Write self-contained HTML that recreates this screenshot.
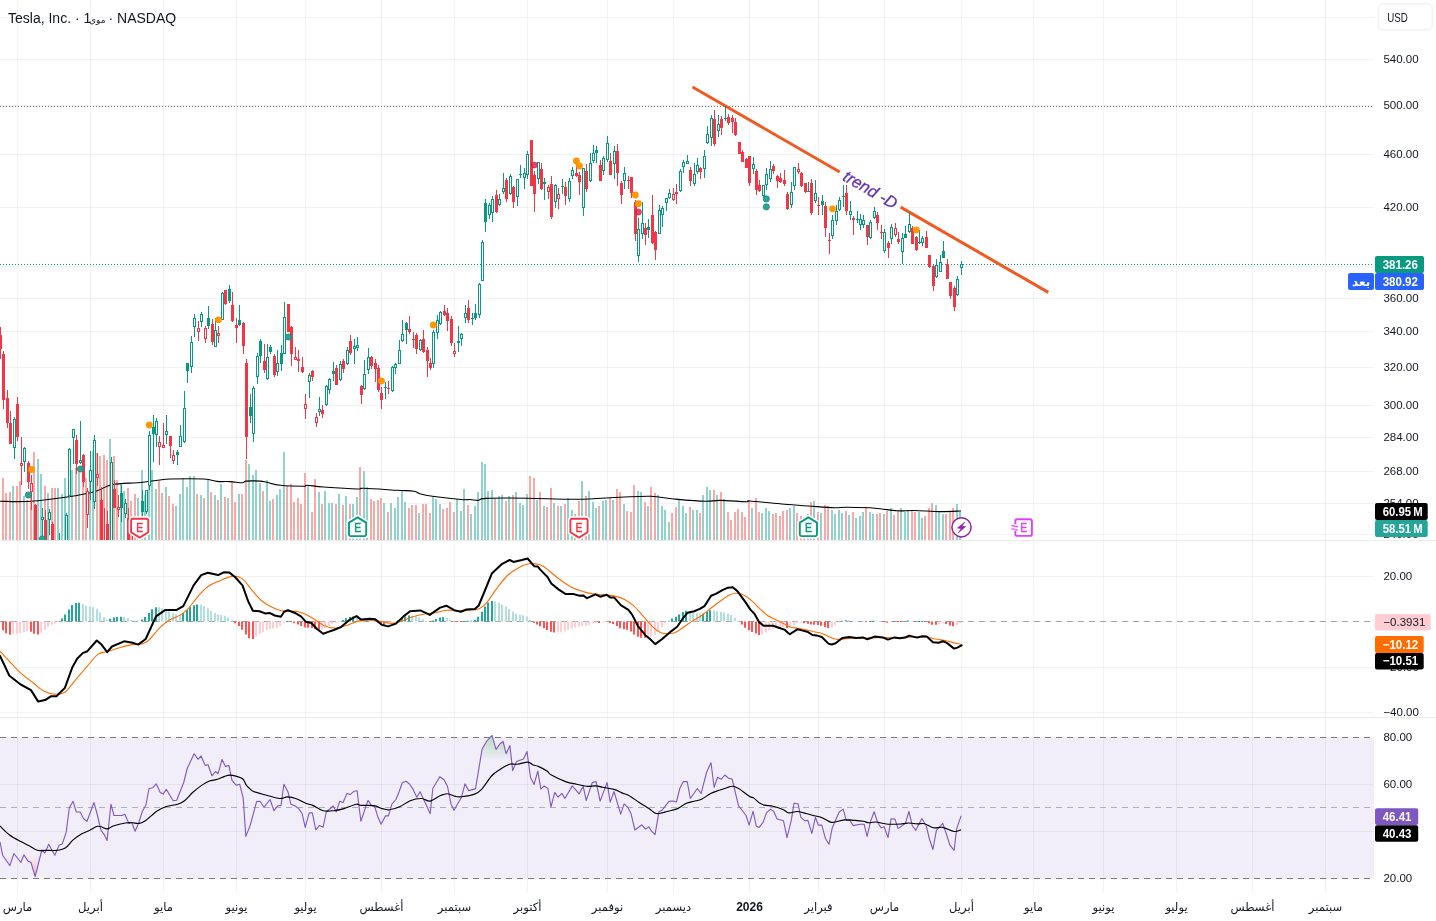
<!DOCTYPE html>
<html lang="ar"><head><meta charset="utf-8"><title>TSLA</title>
<style>html,body{margin:0;padding:0;background:#fff;overflow:hidden}svg{display:block}</style></head>
<body>
<svg width="1436" height="921" viewBox="0 0 1436 921" font-family="'Liberation Sans','DejaVu Sans',sans-serif">
<defs>
<clipPath id="cpMain"><rect x="0" y="0" width="1374" height="540"/></clipPath>
<clipPath id="cpMacd"><rect x="0" y="541" width="1374" height="176"/></clipPath>
<clipPath id="cpRsi"><rect x="0" y="718" width="1374" height="175"/></clipPath>
<clipPath id="cpOB"><rect x="0" y="725" width="1374" height="36"/></clipPath>
<clipPath id="cpOS"><rect x="0" y="855" width="1374" height="30"/></clipPath>
<linearGradient id="gOB" gradientUnits="userSpaceOnUse" x1="0" y1="737.5" x2="0" y2="761"><stop offset="0" stop-color="#4caf50" stop-opacity="0.32"/><stop offset="1" stop-color="#4caf50" stop-opacity="0"/></linearGradient>
<linearGradient id="gOS" gradientUnits="userSpaceOnUse" x1="0" y1="855" x2="0" y2="878.5"><stop offset="0" stop-color="#ff5252" stop-opacity="0"/><stop offset="1" stop-color="#ff5252" stop-opacity="0.32"/></linearGradient>
</defs>
<rect width="1436" height="921" fill="#fff"/>
<rect x="0" y="737.5" width="1374" height="141" fill="#7e57c2" fill-opacity="0.1"/>
<path d="M0 17.5H1374M0 59.5H1374M0 105.5H1374M0 154.5H1374M0 207.5H1374M0 266.5H1374M0 298.5H1374M0 331.5H1374M0 367.5H1374M0 405.5H1374M0 437.5H1374M0 471.5H1374M0 503.5H1374M0 534.5H1374M0 576.5H1374M0 667.5H1374M0 712.5H1374M0 784.5H1374M0 831.5H1374" stroke="#2a2e39" stroke-opacity="0.06" stroke-width="1" fill="none" shape-rendering="crispEdges"/>
<path d="M17.5 0V893M90.5 0V893M163.5 0V893M236.5 0V893M305.5 0V893M381.5 0V893M454.5 0V893M527.5 0V893M607.5 0V893M673.5 0V893M749.5 0V893M818.5 0V893M884.5 0V893M961.5 0V893M1033.5 0V893M1103.5 0V893M1176.5 0V893M1252.5 0V893M1325.5 0V893" stroke="#2a2e39" stroke-opacity="0.06" stroke-width="1" fill="none" shape-rendering="crispEdges"/>
<path d="M0 540.5H1436 M0 717.5H1436" stroke="#ebebeb" stroke-width="1" shape-rendering="crispEdges"/>
<g clip-path="url(#cpMain)" shape-rendering="crispEdges">
<path d="M12 486v54h2v-54zM23 496v44h2v-44zM37 459v81h2v-81zM40 474v66h2v-66zM47 493v47h2v-47zM57 488v52h2v-52zM61 494v46h2v-46zM64 478v62h2v-62zM68 462v78h2v-78zM71 470v70h2v-70zM78 468v72h2v-72zM89 470v70h2v-70zM92 451v89h2v-89zM109 439v101h2v-101zM120 484v56h2v-56zM123 491v49h2v-49zM137 498v42h2v-42zM141 470v70h2v-70zM144 495v45h2v-45zM148 462v78h2v-78zM151 470v70h2v-70zM155 489v51h2v-51zM165 487v53h2v-53zM175 506v34h2v-34zM179 494v46h2v-46zM182 478v62h2v-62zM186 487v53h2v-53zM189 476v64h2v-64zM193 476v64h2v-64zM200 495v45h2v-45zM207 480v60h2v-60zM214 495v45h2v-45zM220 484v56h2v-56zM227 498v42h2v-42zM238 494v46h2v-46zM248 464v76h2v-76zM252 475v65h2v-65zM255 470v70h2v-70zM259 483v57h2v-57zM266 480v60h2v-60zM269 501v39h2v-39zM276 495v45h2v-45zM279 489v51h2v-51zM283 452v88h2v-88zM307 485v55h2v-55zM318 492v48h2v-48zM324 491v49h2v-49zM328 503v37h2v-37zM331 503v37h2v-37zM338 494v46h2v-46zM345 496v44h2v-44zM352 504v36h2v-36zM356 497v43h2v-43zM363 471v69h2v-69zM366 487v53h2v-53zM383 503v37h2v-37zM390 503v37h2v-37zM394 508v32h2v-32zM397 497v43h2v-43zM401 491v49h2v-49zM404 502v38h2v-38zM418 513v27h2v-27zM432 497v43h2v-43zM435 499v41h2v-41zM439 504v36h2v-36zM456 499v41h2v-41zM460 511v29h2v-29zM463 489v51h2v-51zM470 514v26h2v-26zM474 506v34h2v-34zM477 492v48h2v-48zM481 462v78h2v-78zM484 464v76h2v-76zM487 491v49h2v-49zM491 490v50h2v-50zM498 496v44h2v-44zM501 495v45h2v-45zM508 496v44h2v-44zM515 492v48h2v-48zM519 503v37h2v-37zM522 505v35h2v-35zM526 494v46h2v-46zM536 500v40h2v-40zM543 506v34h2v-34zM553 503v37h2v-37zM560 506v34h2v-34zM567 498v42h2v-42zM571 510v30h2v-30zM581 481v59h2v-59zM588 491v49h2v-49zM592 502v38h2v-38zM595 508v32h2v-32zM602 501v39h2v-39zM605 500v40h2v-40zM612 500v40h2v-40zM623 504v36h2v-36zM637 491v49h2v-49zM640 492v48h2v-48zM647 506v34h2v-34zM657 495v45h2v-45zM661 506v34h2v-34zM664 510v30h2v-30zM668 522v18h2v-18zM678 500v40h2v-40zM682 506v34h2v-34zM685 513v27h2v-27zM692 510v30h2v-30zM696 510v30h2v-30zM702 495v45h2v-45zM706 487v53h2v-53zM709 490v50h2v-50zM716 495v45h2v-45zM723 499v41h2v-41zM751 508v32h2v-32zM761 513v27h2v-27zM765 508v32h2v-32zM768 511v29h2v-29zM789 508v32h2v-32zM793 506v34h2v-34zM807 514v26h2v-26zM813 501v39h2v-39zM820 513v27h2v-27zM831 510v30h2v-30zM834 514v26h2v-26zM838 510v30h2v-30zM841 513v27h2v-27zM848 515v25h2v-25zM855 518v22h2v-22zM859 516v24h2v-24zM862 512v28h2v-28zM869 512v28h2v-28zM872 514v26h2v-26zM883 514v26h2v-26zM890 508v32h2v-32zM900 508v32h2v-32zM904 512v28h2v-28zM907 510v30h2v-30zM918 512v28h2v-28zM921 518v22h2v-22zM935 505v35h2v-35zM938 512v28h2v-28zM942 514v26h2v-26zM956 504v36h2v-36zM959 512v28h2v-28z" fill="#92d2cc"/>
<path d="M-2 504v36h2v-36zM2 478v62h2v-62zM5 493v47h2v-47zM9 492v48h2v-48zM16 486v54h2v-54zM19 481v59h2v-59zM26 500v40h2v-40zM30 485v55h2v-55zM33 452v88h2v-88zM44 486v54h2v-54zM51 488v52h2v-52zM54 488v52h2v-52zM75 468v72h2v-72zM82 474v66h2v-66zM85 478v62h2v-62zM96 453v87h2v-87zM99 456v84h2v-84zM103 455v85h2v-85zM106 460v80h2v-80zM113 456v84h2v-84zM116 480v60h2v-60zM127 488v52h2v-52zM130 501v39h2v-39zM134 494v46h2v-46zM158 481v59h2v-59zM161 493v47h2v-47zM168 496v44h2v-44zM172 504v36h2v-36zM196 494v46h2v-46zM203 498v42h2v-42zM210 492v48h2v-48zM217 500v40h2v-40zM224 497v43h2v-43zM231 482v58h2v-58zM234 502v38h2v-38zM241 494v46h2v-46zM245 460v80h2v-80zM262 491v49h2v-49zM272 499v41h2v-41zM286 486v54h2v-54zM290 484v56h2v-56zM293 502v38h2v-38zM297 498v42h2v-42zM300 504v36h2v-36zM304 473v67h2v-67zM311 512v28h2v-28zM314 479v61h2v-61zM321 504v36h2v-36zM335 504v36h2v-36zM342 505v35h2v-35zM349 504v36h2v-36zM359 467v73h2v-73zM370 499v41h2v-41zM373 501v39h2v-39zM377 500v40h2v-40zM380 498v42h2v-42zM387 512v28h2v-28zM408 508v32h2v-32zM411 505v35h2v-35zM415 505v35h2v-35zM422 504v36h2v-36zM425 504v36h2v-36zM429 513v27h2v-27zM442 509v31h2v-31zM446 508v32h2v-32zM449 502v38h2v-38zM453 512v28h2v-28zM467 505v35h2v-35zM494 498v42h2v-42zM505 501v39h2v-39zM512 495v45h2v-45zM529 476v64h2v-64zM533 478v62h2v-62zM539 492v48h2v-48zM546 507v33h2v-33zM550 488v52h2v-52zM557 506v34h2v-34zM564 504v36h2v-36zM574 514v26h2v-26zM578 501v39h2v-39zM585 496v44h2v-44zM598 506v34h2v-34zM609 498v42h2v-42zM616 489v51h2v-51zM619 492v48h2v-48zM626 511v29h2v-29zM630 512v28h2v-28zM633 485v55h2v-55zM644 502v38h2v-38zM650 487v53h2v-53zM654 493v47h2v-47zM671 513v27h2v-27zM675 507v33h2v-33zM689 507v33h2v-33zM699 513v27h2v-27zM713 490v50h2v-50zM720 492v48h2v-48zM727 512v28h2v-28zM730 520v20h2v-20zM734 512v28h2v-28zM737 509v31h2v-31zM741 512v28h2v-28zM744 517v23h2v-23zM748 500v40h2v-40zM755 498v42h2v-42zM758 512v28h2v-28zM772 514v26h2v-26zM775 513v27h2v-27zM779 516v24h2v-24zM782 511v29h2v-29zM786 510v30h2v-30zM796 513v27h2v-27zM800 516v24h2v-24zM803 517v23h2v-23zM810 502v38h2v-38zM817 512v28h2v-28zM824 505v35h2v-35zM827 506v34h2v-34zM845 511v29h2v-29zM852 512v28h2v-28zM865 507v33h2v-33zM876 514v26h2v-26zM879 513v27h2v-27zM886 511v29h2v-29zM893 515v25h2v-25zM897 511v29h2v-29zM911 511v29h2v-29zM914 512v28h2v-28zM924 516v24h2v-24zM928 508v32h2v-32zM931 503v37h2v-37zM945 514v26h2v-26zM949 512v28h2v-28zM952 508v32h2v-32z" fill="#f7a9a7"/>
</g>
<path d="M0.0 501.3C5.2 501.3 19.8 502.0 31.0 501.3C42.2 500.6 56.3 498.6 67.0 497.0C77.7 495.4 87.5 493.6 95.0 491.5C102.5 489.4 104.5 486.2 112.0 484.7C119.5 483.2 132.0 483.3 140.0 482.5C148.0 481.7 155.0 480.6 160.0 480.0C165.0 479.4 162.7 479.2 170.0 479.0C177.3 478.8 196.2 478.6 204.0 479.0C211.8 479.4 212.7 481.0 217.0 481.4C221.3 481.8 225.8 481.4 230.0 481.6C234.2 481.8 239.8 482.9 242.5 482.8C245.2 482.7 243.0 481.4 245.9 481.1C248.8 480.8 256.6 480.9 260.1 481.1C263.6 481.3 263.5 481.6 266.8 482.3C270.1 483.0 274.1 484.7 280.2 485.3C286.3 485.9 299.2 486.2 303.6 486.2C308.1 486.2 303.6 485.2 306.9 485.3C310.2 485.4 315.2 486.4 323.6 487.0C332.0 487.6 350.4 488.8 357.1 489.0C363.8 489.2 357.1 488.1 363.8 488.3C370.5 488.5 388.9 489.8 397.2 490.3C405.5 490.8 410.0 490.6 413.9 491.2C417.8 491.8 417.5 493.2 420.6 494.0C423.7 494.8 425.6 495.3 432.3 496.2C439.0 497.1 454.5 498.9 460.8 499.5C467.1 500.1 467.1 499.4 470.0 499.5C472.9 499.6 475.3 500.6 478.0 500.4C480.7 500.2 477.8 498.8 486.0 498.4C494.2 498.0 511.8 498.0 527.0 498.2C542.2 498.4 561.5 499.4 577.0 499.3C592.5 499.2 607.7 497.8 620.0 497.3C632.3 496.8 642.0 496.0 651.0 496.3C660.0 496.6 665.0 498.2 674.0 499.0C683.0 499.8 697.3 501.1 705.0 501.3C712.7 501.5 713.2 500.3 720.0 500.4C726.8 500.5 741.0 501.6 746.0 501.7C751.0 501.8 744.3 500.6 750.0 501.0C755.7 501.4 770.3 503.0 780.0 503.8C789.7 504.6 799.0 505.4 808.0 506.0C817.0 506.6 827.5 507.5 834.0 507.7C840.5 507.9 840.2 507.2 847.0 507.3C853.8 507.4 866.7 507.6 875.0 508.2C883.3 508.8 890.5 510.4 897.0 510.8C903.5 511.2 906.8 510.4 914.0 510.5C921.2 510.6 932.2 511.5 940.0 511.6C947.8 511.7 957.5 511.1 961.0 511.0" fill="none" stroke="#000" stroke-width="1.1" stroke-linejoin="round" clip-path="url(#cpMain)"/>
<path d="M0 106.5H1373" stroke="#6a6d78" stroke-width="1" stroke-dasharray="1 2" shape-rendering="crispEdges"/>
<path d="M0 264.5H1374" stroke="#089981" stroke-width="1" stroke-dasharray="1 2" shape-rendering="crispEdges"/>
<path d="M692.5 87.0L839.7 172.0 M900.6 207.1L1048.3 292.4" stroke="#f05a22" stroke-width="3" fill="none"/>
<g clip-path="url(#cpMain)" shape-rendering="crispEdges">
<path d="M14 417v42h1v-42zM24 447v25h1v-25zM42 508v38h1v-38zM49 509v26h1v-26zM59 533v49h1v-49zM66 513v44h1v-44zM69 448v49h1v-49zM73 429v35h1v-35zM80 421v43h1v-43zM90 451v49h1v-49zM94 435v74h1v-74zM111 457v104h1v-104zM121 485v37h1v-37zM120 493v15h3v-15zM125 499v19h1v-19zM135 546v36h1v-36zM139 542v40h1v-40zM142 490v27h1v-27zM141 501v11h3v-11zM146 490v24h1v-24zM149 431v59h1v-59zM153 415v47h1v-47zM152 427v7h3v-7zM156 418v29h1v-29zM166 415v29h1v-29zM177 450v15h1v-15zM176 452v3h3v-3zM180 425v22h1v-22zM184 391v52h1v-52zM187 363v20h1v-20zM186 363v8h3v-8zM191 336v37h1v-37zM194 314v23h1v-23zM201 312v15h1v-15zM208 306v23h1v-23zM207 318v8h3v-8zM215 318v29h1v-29zM222 292v28h1v-28zM229 285v18h1v-18zM228 289v12h3v-12zM239 305v21h1v-21zM238 320v5h3v-5zM250 394v29h1v-29zM249 407v9h3v-9zM253 386v56h1v-56zM257 353v31h1v-31zM260 339v24h1v-24zM259 341v15h3v-15zM267 344v36h1v-36zM270 345v9h1v-9zM269 347v5h3v-5zM277 350v26h1v-26zM281 345v26h1v-26zM280 353v11h3v-11zM284 302v52h1v-52zM309 373v25h1v-25zM319 397v19h1v-19zM326 385v21h1v-21zM329 378v16h1v-16zM333 362v19h1v-19zM332 371v3h3v-3zM340 361v20h1v-20zM347 347v18h1v-18zM354 339v25h1v-25zM357 337v14h1v-14zM364 360v30h1v-30zM368 348v26h1v-26zM385 382v17h1v-17zM384 387v1h3v-1zM392 366v26h1v-26zM395 363v11h1v-11zM399 340v24h1v-24zM402 320v22h1v-22zM406 322v22h1v-22zM405 323v7h3v-7zM420 339v12h1v-12zM433 330v38h1v-38zM437 315v24h1v-24zM440 311v14h1v-14zM458 326v26h1v-26zM457 341v2h3v-2zM461 333v13h1v-13zM465 305v18h1v-18zM472 313v12h1v-12zM471 318v1h3v-1zM475 304v16h1v-16zM474 313v5h3v-5zM479 283v35h1v-35zM482 240v41h1v-41zM485 199v33h1v-33zM484 203v19h3v-19zM489 203v16h1v-16zM492 196v26h1v-26zM499 194v12h1v-12zM503 173v21h1v-21zM510 174v21h1v-21zM517 179v27h1v-27zM520 165v13h1v-13zM519 174v1h3v-1zM524 168v21h1v-21zM527 151v28h1v-28zM538 162v22h1v-22zM544 178v22h1v-22zM543 182v2h3v-2zM555 184v24h1v-24zM562 179v15h1v-15zM561 186v1h3v-1zM569 178v24h1v-24zM572 167v12h1v-12zM583 168v48h1v-48zM590 153v29h1v-29zM593 145v18h1v-18zM596 146v17h1v-17zM595 150v3h3v-3zM603 156v19h1v-19zM607 136v26h1v-26zM614 146v33h1v-33zM624 167v22h1v-22zM638 218v44h1v-44zM642 202v37h1v-37zM648 219v19h1v-19zM647 227v3h3v-3zM659 205v29h1v-29zM662 206v21h1v-21zM666 198v13h1v-13zM669 189v10h1v-10zM680 169v23h1v-23zM683 160v13h1v-13zM687 155v9h1v-9zM694 163v23h1v-23zM697 158v16h1v-16zM704 150v28h1v-28zM707 126v18h1v-18zM711 115v31h1v-31zM718 115v22h1v-22zM725 106v15h1v-15zM724 118v1h3v-1zM753 157v17h1v-17zM763 185v12h1v-12zM766 168v22h1v-22zM770 161v21h1v-21zM791 182v26h1v-26zM794 167v23h1v-23zM808 182v10h1v-10zM807 191v1h3v-1zM815 180v23h1v-23zM822 195v20h1v-20zM821 201v4h3v-4zM832 215v24h1v-24zM836 205v20h1v-20zM839 197v14h1v-14zM843 185v22h1v-22zM842 196v1h3v-1zM850 201v19h1v-19zM857 211v12h1v-12zM856 219v1h3v-1zM860 214v16h1v-16zM863 215v13h1v-13zM870 220v19h1v-19zM874 207v12h1v-12zM884 229v24h1v-24zM891 224v20h1v-20zM902 233v31h1v-31zM905 226v12h1v-12zM904 234v4h3v-4zM909 212v21h1v-21zM919 230v14h1v-14zM918 242v1h3v-1zM922 236v10h1v-10zM936 259v19h1v-19zM940 255v17h1v-17zM943 241v17h1v-17zM942 251v7h3v-7zM957 276v20h1v-20zM961 261v14h1v-14z" fill="#089981"/>
<path d="M-1 327v32h2v-32zM1 335v14h1v-14zM3 351v58h1v-58zM2 354v46h3v-46zM7 390v38h1v-38zM6 398v25h3v-25zM10 411v33h1v-33zM9 423v21h3v-21zM17 397v44h1v-44zM16 404v33h3v-33zM21 437v48h1v-48zM28 461v28h1v-28zM27 463v19h3v-19zM31 475v35h1v-35zM35 504v53h1v-53zM34 505v46h3v-46zM38 546v36h1v-36zM37 549v25h3v-25zM45 510v47h1v-47zM44 520v31h3v-31zM52 522v44h1v-44zM51 524v33h3v-33zM55 549v33h1v-33zM54 551v23h3v-23zM62 546v36h1v-36zM61 549v25h3v-25zM76 435v39h1v-39zM75 440v24h3v-24zM83 454v33h1v-33zM82 455v27h3v-27zM87 488v40h1v-40zM97 453v33h1v-33zM101 487v79h1v-79zM100 500v57h3v-57zM104 508v74h1v-74zM103 549v25h3v-25zM107 511v55h1v-55zM106 524v33h3v-33zM114 480v28h1v-28zM113 489v19h3v-19zM118 495v22h1v-22zM128 508v57h1v-57zM127 518v42h3v-42zM132 536v29h1v-29zM131 545v15h3v-15zM159 436v29h1v-29zM163 423v24h1v-24zM170 436v22h1v-22zM169 436v10h3v-10zM173 450v14h1v-14zM198 321v20h1v-20zM205 326v17h1v-17zM212 319v26h1v-26zM211 324v18h3v-18zM218 326v17h1v-17zM225 290v15h1v-15zM224 290v14h3v-14zM232 292v30h1v-30zM231 305v16h3v-16zM236 318v25h1v-25zM235 325v3h3v-3zM243 322v32h1v-32zM242 323v23h3v-23zM246 359v100h1v-100zM245 363v74h3v-74zM264 344v29h1v-29zM263 361v9h3v-9zM274 354v23h1v-23zM273 356v19h3v-19zM288 304v28h1v-28zM287 304v28h3v-28zM291 326v40h1v-40zM290 327v27h3v-27zM295 347v13h1v-13zM298 350v22h1v-22zM297 359v2h3v-2zM302 357v16h1v-16zM301 367v5h3v-5zM305 394v25h1v-25zM312 370v11h1v-11zM311 371v6h3v-6zM316 413v14h1v-14zM322 405v13h1v-13zM321 410v4h3v-4zM336 365v20h1v-20zM335 368v17h3v-17zM343 359v14h1v-14zM342 361v8h3v-8zM350 335v20h1v-20zM349 341v12h3v-12zM361 385v19h1v-19zM360 386v9h3v-9zM371 356v13h1v-13zM370 357v9h3v-9zM375 359v23h1v-23zM374 363v6h3v-6zM378 365v27h1v-27zM377 368v22h3v-22zM381 387v22h1v-22zM380 393v7h3v-7zM388 381v13h1v-13zM387 388v1h3v-1zM409 316v18h1v-18zM408 329v3h3v-3zM413 332v16h1v-16zM412 339v1h3v-1zM416 333v21h1v-21zM415 335v14h3v-14zM423 330v23h1v-23zM422 339v13h3v-13zM427 347v30h1v-30zM426 350v11h3v-11zM430 358v12h1v-12zM429 363v5h3v-5zM444 305v11h1v-11zM443 311v4h3v-4zM447 308v23h1v-23zM446 313v8h3v-8zM451 316v30h1v-30zM450 319v24h3v-24zM454 343v14h1v-14zM468 300v23h1v-23zM467 308v12h3v-12zM496 190v23h1v-23zM495 195v17h3v-17zM506 178v24h1v-24zM505 180v19h3v-19zM513 186v22h1v-22zM512 187v15h3v-15zM531 140v46h1v-46zM530 140v46h3v-46zM534 171v41h1v-41zM533 175v19h3v-19zM541 163v27h1v-27zM540 169v20h3v-20zM548 185v14h1v-14zM551 176v43h1v-43zM550 184v33h3v-33zM558 188v21h1v-21zM565 182v23h1v-23zM564 187v9h3v-9zM576 163v14h1v-14zM575 173v3h3v-3zM579 172v23h1v-23zM578 175v7h3v-7zM586 164v28h1v-28zM585 171v18h3v-18zM600 160v21h1v-21zM599 165v16h3v-16zM610 153v22h1v-22zM609 161v14h3v-14zM617 144v42h1v-42zM616 151v22h3v-22zM621 181v23h1v-23zM620 183v12h3v-12zM628 176v13h1v-13zM627 180v1h3v-1zM631 177v21h1v-21zM630 177v16h3v-16zM635 200v41h1v-41zM634 202v32h3v-32zM645 223v22h1v-22zM644 228v7h3v-7zM652 195v49h1v-49zM651 215v28h3v-28zM655 231v29h1v-29zM654 232v18h3v-18zM673 188v13h1v-13zM676 184v20h1v-20zM675 192v2h3v-2zM690 167v19h1v-19zM689 170v11h3v-11zM700 167v12h1v-12zM699 168v4h3v-4zM714 110v36h1v-36zM713 119v25h3v-25zM721 116v19h1v-19zM720 119v9h3v-9zM728 114v11h1v-11zM727 117v6h3v-6zM732 115v18h1v-18zM731 118v4h3v-4zM735 118v18h1v-18zM734 122v13h3v-13zM739 142v12h1v-12zM738 142v12h3v-12zM742 150v12h1v-12zM741 152v10h3v-10zM746 158v10h1v-10zM745 159v9h3v-9zM749 156v30h1v-30zM748 156v27h3v-27zM756 169v26h1v-26zM755 171v19h3v-19zM759 180v12h1v-12zM758 185v6h3v-6zM773 164v10h1v-10zM772 166v5h3v-5zM777 175v13h1v-13zM776 176v5h3v-5zM780 173v10h1v-10zM779 178v4h3v-4zM784 170v16h1v-16zM783 180v4h3v-4zM787 192v18h1v-18zM786 194v15h3v-15zM798 163v11h1v-11zM801 172v15h1v-15zM800 173v13h3v-13zM805 183v10h1v-10zM804 183v9h3v-9zM811 179v36h1v-36zM810 183v30h3v-30zM818 197v18h1v-18zM817 205v1h3v-1zM825 202v35h1v-35zM824 206v22h3v-22zM829 233v21h1v-21zM828 240v1h3v-1zM846 185v30h1v-30zM845 193v18h3v-18zM853 216v19h1v-19zM852 218v2h3v-2zM867 225v20h1v-20zM866 225v12h3v-12zM877 212v18h1v-18zM876 215v8h3v-8zM881 225v14h1v-14zM880 232v1h3v-1zM888 241v17h1v-17zM887 243v5h3v-5zM895 223v14h1v-14zM898 232v12h1v-12zM897 239v3h3v-3zM912 226v18h1v-18zM911 228v16h3v-16zM916 236v15h1v-15zM915 237v13h3v-13zM926 231v17h1v-17zM925 237v11h3v-11zM929 255v13h1v-13zM928 255v12h3v-12zM933 265v26h1v-26zM932 266v20h3v-20zM947 259v20h1v-20zM946 264v15h3v-15zM950 282v17h1v-17zM949 282v14h3v-14zM954 286v25h1v-25zM953 288v19h3v-19z" fill="#f23645"/>
<path d="M13.5 419.5h2v28h-2zM23.5 448.5h2v13h-2zM41.5 517.5h2v2h-2zM48.5 512.5h2v7h-2zM58.5 549.5h2v24h-2zM65.5 515.5h2v33h-2zM68.5 449.5h2v46h-2zM72.5 429.5h2v8h-2zM79.5 460.5h2v2h-2zM89.5 470.5h2v11h-2zM93.5 440.5h2v61h-2zM110.5 462.5h2v91h-2zM124.5 503.5h2v10h-2zM134.5 549.5h2v24h-2zM138.5 546.5h2v27h-2zM145.5 490.5h2v21h-2zM148.5 435.5h2v50h-2zM155.5 421.5h2v13h-2zM165.5 431.5h2v3h-2zM179.5 436.5h2v10h-2zM183.5 408.5h2v33h-2zM190.5 342.5h2v24h-2zM193.5 318.5h2v8h-2zM200.5 314.5h2v7h-2zM214.5 330.5h2v16h-2zM221.5 293.5h2v26h-2zM252.5 388.5h2v45h-2zM256.5 356.5h2v20h-2zM266.5 357.5h2v21h-2zM276.5 363.5h2v8h-2zM283.5 317.5h2v36h-2zM308.5 375.5h2v6h-2zM318.5 409.5h2v2h-2zM325.5 386.5h2v18h-2zM328.5 379.5h2v10h-2zM339.5 364.5h2v15h-2zM346.5 350.5h2v13h-2zM353.5 346.5h2v2h-2zM356.5 345.5h2v2h-2zM363.5 374.5h2v14h-2zM367.5 357.5h2v12h-2zM391.5 367.5h2v23h-2zM394.5 364.5h2v3h-2zM398.5 350.5h2v13h-2zM401.5 334.5h2v6h-2zM419.5 340.5h2v9h-2zM432.5 332.5h2v31h-2zM436.5 320.5h2v12h-2zM439.5 312.5h2v11h-2zM460.5 334.5h2v4h-2zM464.5 313.5h2v4h-2zM478.5 284.5h2v30h-2zM481.5 242.5h2v38h-2zM488.5 205.5h2v9h-2zM491.5 199.5h2v13h-2zM498.5 199.5h2v5h-2zM502.5 188.5h2v3h-2zM509.5 176.5h2v17h-2zM516.5 179.5h2v17h-2zM523.5 173.5h2v4h-2zM526.5 154.5h2v20h-2zM537.5 162.5h2v16h-2zM554.5 185.5h2v16h-2zM568.5 181.5h2v17h-2zM571.5 170.5h2v5h-2zM582.5 168.5h2v39h-2zM589.5 163.5h2v17h-2zM592.5 153.5h2v7h-2zM602.5 158.5h2v12h-2zM606.5 143.5h2v16h-2zM613.5 151.5h2v12h-2zM623.5 173.5h2v7h-2zM637.5 229.5h2v26h-2zM641.5 223.5h2v10h-2zM658.5 210.5h2v23h-2zM661.5 208.5h2v6h-2zM665.5 198.5h2v4h-2zM668.5 193.5h2v4h-2zM679.5 171.5h2v19h-2zM682.5 162.5h2v4h-2zM686.5 161.5h2v2h-2zM693.5 174.5h2v9h-2zM696.5 165.5h2v6h-2zM703.5 156.5h2v12h-2zM706.5 134.5h2v8h-2zM710.5 118.5h2v19h-2zM717.5 124.5h2v6h-2zM752.5 164.5h2v4h-2zM762.5 185.5h2v10h-2zM765.5 174.5h2v10h-2zM769.5 169.5h2v9h-2zM790.5 192.5h2v12h-2zM793.5 167.5h2v18h-2zM814.5 193.5h2v7h-2zM831.5 220.5h2v15h-2zM835.5 211.5h2v9h-2zM838.5 200.5h2v9h-2zM849.5 211.5h2v3h-2zM859.5 219.5h2v5h-2zM862.5 220.5h2v4h-2zM869.5 222.5h2v15h-2zM873.5 211.5h2v6h-2zM883.5 232.5h2v18h-2zM890.5 227.5h2v11h-2zM901.5 238.5h2v13h-2zM908.5 224.5h2v7h-2zM921.5 238.5h2v4h-2zM935.5 265.5h2v11h-2zM939.5 262.5h2v9h-2zM956.5 279.5h2v15h-2zM960.5 264.5h2v3h-2z" fill="#fff" stroke="#089981" stroke-width="1"/>
<path d="M20.5 463.5h2v2h-2zM30.5 483.5h2v8h-2zM86.5 491.5h2v23h-2zM96.5 474.5h2v3h-2zM117.5 507.5h2v2h-2zM158.5 442.5h2v4h-2zM162.5 445.5h2v2h-2zM172.5 455.5h2v5h-2zM197.5 328.5h2v3h-2zM204.5 328.5h2v10h-2zM217.5 333.5h2v2h-2zM294.5 357.5h2v2h-2zM304.5 404.5h2v4h-2zM315.5 417.5h2v5h-2zM453.5 351.5h2v2h-2zM547.5 187.5h2v4h-2zM557.5 194.5h2v4h-2zM672.5 194.5h2v5h-2zM797.5 169.5h2v2h-2zM894.5 228.5h2v6h-2z" fill="#fff" stroke="#f23645" stroke-width="1"/>
</g>
<g clip-path="url(#cpMain)">
<circle cx="31.5" cy="469.5" r="3.4" fill="#ff9800"/>
<circle cx="28.4" cy="495.0" r="3.1" fill="#26a69a" stroke="#1b8a7a" stroke-width="0.8"/>
<circle cx="42.3" cy="539.0" r="3.1" fill="#26a69a" stroke="#1b8a7a" stroke-width="0.8"/>
<circle cx="80.4" cy="469.0" r="3.1" fill="#26a69a" stroke="#1b8a7a" stroke-width="0.8"/>
<circle cx="149.3" cy="425.0" r="3.4" fill="#ff9800"/>
<circle cx="218.5" cy="319.8" r="3.4" fill="#ff9800"/>
<circle cx="288.4" cy="337.0" r="3.1" fill="#26a69a" stroke="#1b8a7a" stroke-width="0.8"/>
<circle cx="381.5" cy="381.0" r="3.4" fill="#ff9800"/>
<circle cx="433.3" cy="325.0" r="3.4" fill="#ff9800"/>
<circle cx="534.4" cy="165.0" r="3.1" fill="#e0264e" fill-opacity="0.85" stroke="#b71c4a" stroke-opacity="0.6" stroke-width="0.8"/>
<circle cx="576.4" cy="161.0" r="3.4" fill="#ff9800"/>
<circle cx="579.5" cy="166.0" r="3.4" fill="#ff9800"/>
<circle cx="635.3" cy="195.0" r="3.4" fill="#ff9800"/>
<circle cx="638.4" cy="203.7" r="3.4" fill="#ff9800"/>
<circle cx="638.4" cy="212.0" r="3.1" fill="#e0264e" fill-opacity="0.85" stroke="#b71c4a" stroke-opacity="0.6" stroke-width="0.8"/>
<circle cx="766.3" cy="198.9" r="3.1" fill="#26a69a" stroke="#1b8a7a" stroke-width="0.8"/>
<circle cx="766.3" cy="206.8" r="3.1" fill="#26a69a" stroke="#1b8a7a" stroke-width="0.8"/>
<circle cx="832.5" cy="208.8" r="3.4" fill="#ff9800"/>
<circle cx="916.3" cy="230.0" r="3.4" fill="#ff9800"/>
</g>
<text x="0" y="0" transform="translate(870.4 189.7) rotate(30.00)" text-anchor="middle" dy="5.7" font-size="16.5" font-style="italic" fill="#5e35b1" stroke="#5e35b1" stroke-width="0.3">trend -D</text>
<path d="M133.1 518.7H146.3Q148.3 518.7 148.3 520.7V532.2L139.7 537.6L131.1 532.2V520.7Q131.1 518.7 133.1 518.7Z" fill="#fff" stroke="#fff" stroke-width="5" stroke-linejoin="round"/>
<path d="M133.1 518.7H146.3Q148.3 518.7 148.3 520.7V532.2L139.7 537.6L131.1 532.2V520.7Q131.1 518.7 133.1 518.7Z" fill="#fff" stroke="#f23645" stroke-width="1.9" stroke-linejoin="round"/>
<text x="139.7" y="532" text-anchor="middle" font-size="12" fill="#f23645" stroke="#f23645" stroke-width="0.45" textLength="6.9" lengthAdjust="spacingAndGlyphs">E</text>
<path d="M357.6 517.4L366.2 522.6V534.6Q366.2 536.1 364.7 536.1H350.5Q349.0 536.1 349.0 534.6V522.6Z" fill="#fff" stroke="#fff" stroke-width="5" stroke-linejoin="round"/>
<path d="M357.6 517.4L366.2 522.6V534.6Q366.2 536.1 364.7 536.1H350.5Q349.0 536.1 349.0 534.6V522.6Z" fill="#fff" stroke="#089981" stroke-width="1.9" stroke-linejoin="round"/>
<text x="357.6" y="532" text-anchor="middle" font-size="12" fill="#089981" stroke="#089981" stroke-width="0.45" textLength="6.9" lengthAdjust="spacingAndGlyphs">E</text>
<path d="M572.4 518.7H585.6Q587.6 518.7 587.6 520.7V532.2L579.0 537.6L570.4 532.2V520.7Q570.4 518.7 572.4 518.7Z" fill="#fff" stroke="#fff" stroke-width="5" stroke-linejoin="round"/>
<path d="M572.4 518.7H585.6Q587.6 518.7 587.6 520.7V532.2L579.0 537.6L570.4 532.2V520.7Q570.4 518.7 572.4 518.7Z" fill="#fff" stroke="#f23645" stroke-width="1.9" stroke-linejoin="round"/>
<text x="579.0" y="532" text-anchor="middle" font-size="12" fill="#f23645" stroke="#f23645" stroke-width="0.45" textLength="6.9" lengthAdjust="spacingAndGlyphs">E</text>
<path d="M808.4 517.4L817.0 522.6V534.6Q817.0 536.1 815.5 536.1H801.3Q799.8 536.1 799.8 534.6V522.6Z" fill="#fff" stroke="#fff" stroke-width="5" stroke-linejoin="round"/>
<path d="M808.4 517.4L817.0 522.6V534.6Q817.0 536.1 815.5 536.1H801.3Q799.8 536.1 799.8 534.6V522.6Z" fill="#fff" stroke="#089981" stroke-width="1.9" stroke-linejoin="round"/>
<text x="808.4" y="532" text-anchor="middle" font-size="12" fill="#089981" stroke="#089981" stroke-width="0.45" textLength="6.9" lengthAdjust="spacingAndGlyphs">E</text>
<circle cx="961.5" cy="527.3" r="9.6" fill="#fff" stroke="#8e24aa" stroke-width="1.5"/>
<path d="M964.7 522.2L957.5 528.0L961.3 528.4L958.3 532.8L965.7 526.6L961.9 526.2Z" fill="#8e24aa" stroke="#8e24aa" stroke-width="0.7" stroke-linejoin="round"/>
<rect x="1015.3" y="519.3" width="16.6" height="16.6" rx="2" fill="#fff" stroke="#e040fb" stroke-width="1.9"/>
<rect x="1011.5" y="524.4" width="6.6" height="6.6" fill="#fff"/>
<path d="M1011.4 526.2q1.6 -1.3 3.2 0t3.2 0M1011.4 529.4q1.6 -1.3 3.2 0t3.2 0" fill="none" stroke="#e040fb" stroke-width="1.2"/>
<text x="1023.8" y="532" text-anchor="middle" font-size="12" fill="#e040fb" stroke="#e040fb" stroke-width="0.45" textLength="6.9" lengthAdjust="spacingAndGlyphs">E</text>
<path d="M0 621.5H1374" stroke="#787b86" stroke-opacity="0.7" stroke-width="1" stroke-dasharray="6 5" shape-rendering="crispEdges"/>
<path d="M61 618.5V621.5h2V618.5zM64 614.4V621.5h2V614.4zM68 609.5V621.5h2V609.5zM71 605.1V621.5h2V605.1zM75 602.9V621.5h2V602.9zM78 602.8V621.5h2V602.8zM109 618.7V621.5h2V618.7zM113 617.5V621.5h2V617.5zM116 617.1V621.5h2V617.1zM120 616.8V621.5h2V616.8zM141 619.5V621.5h2V619.5zM144 617.0V621.5h2V617.0zM148 613.1V621.5h2V613.1zM151 609.2V621.5h2V609.2zM155 607.2V621.5h2V607.2zM182 612.9V621.5h2V612.9zM186 609.9V621.5h2V609.9zM189 607.0V621.5h2V607.0zM193 605.3V621.5h2V605.3zM196 604.4V621.5h2V604.4zM286 621.0V622.0h2V621.0zM342 620.1V621.5h2V620.1zM345 618.3V621.5h2V618.3zM349 617.1V621.5h2V617.1zM352 616.6V621.5h2V616.6zM366 620.0V621.5h2V620.0zM397 620.3V621.5h2V620.3zM401 618.2V621.5h2V618.2zM404 616.4V621.5h2V616.4zM408 615.5V621.5h2V615.5zM432 620.6V621.5h2V620.6zM435 618.9V621.5h2V618.9zM439 617.6V621.5h2V617.6zM442 617.3V621.5h2V617.3zM463 621.0V622.0h2V621.0zM467 620.8V621.5h2V620.8zM470 620.7V621.5h2V620.7zM474 619.8V621.5h2V619.8zM477 616.8V621.5h2V616.8zM481 611.7V621.5h2V611.7zM484 606.4V621.5h2V606.4zM487 602.6V621.5h2V602.6zM491 601.0V621.5h2V601.0zM668 620.7V621.5h2V620.7zM671 618.6V621.5h2V618.6zM675 616.8V621.5h2V616.8zM678 614.4V621.5h2V614.4zM682 612.0V621.5h2V612.0zM685 610.8V621.5h2V610.8zM702 613.5V621.5h2V613.5zM706 611.8V621.5h2V611.8zM709 610.3V621.5h2V610.3zM841 620.7V621.5h2V620.7zM845 620.2V621.5h2V620.2zM859 621.0V621.5h2V621.0zM869 621.0V622.0h2V621.0zM872 620.8V621.5h2V620.8zM893 621.0V622.0h2V621.0zM904 621.0V621.5h2V621.0zM907 620.5V621.5h2V620.5zM918 621.0V622.0h2V621.0zM921 621.0V622.0h2V621.0z" fill="#26a69a"/>
<path d="M82 604.1V621.5h2V604.1zM85 605.7V621.5h2V605.7zM89 606.5V621.5h2V606.5zM92 606.9V621.5h2V606.9zM96 608.7V621.5h2V608.7zM99 612.5V621.5h2V612.5zM103 617.1V621.5h2V617.1zM106 619.5V621.5h2V619.5zM123 617.1V621.5h2V617.1zM127 618.3V621.5h2V618.3zM130 619.7V621.5h2V619.7zM134 620.7V621.5h2V620.7zM137 620.7V621.5h2V620.7zM158 607.3V621.5h2V607.3zM161 608.2V621.5h2V608.2zM165 609.6V621.5h2V609.6zM168 611.6V621.5h2V611.6zM172 613.3V621.5h2V613.3zM175 614.3V621.5h2V614.3zM179 614.3V621.5h2V614.3zM200 604.5V621.5h2V604.5zM203 606.0V621.5h2V606.0zM207 608.3V621.5h2V608.3zM210 610.8V621.5h2V610.8zM214 613.0V621.5h2V613.0zM217 614.5V621.5h2V614.5zM220 614.9V621.5h2V614.9zM224 615.7V621.5h2V615.7zM227 617.4V621.5h2V617.4zM231 620.2V621.5h2V620.2zM356 617.7V621.5h2V617.7zM359 619.4V621.5h2V619.4zM363 620.0V621.5h2V620.0zM370 620.1V621.5h2V620.1zM373 620.7V621.5h2V620.7zM411 615.7V621.5h2V615.7zM415 616.3V621.5h2V616.3zM418 617.3V621.5h2V617.3zM422 619.2V621.5h2V619.2zM425 621.0V622.0h2V621.0zM446 618.1V621.5h2V618.1zM449 619.6V621.5h2V619.6zM453 621.0V621.5h2V621.0zM494 601.6V621.5h2V601.6zM498 602.8V621.5h2V602.8zM501 604.5V621.5h2V604.5zM505 606.5V621.5h2V606.5zM508 608.9V621.5h2V608.9zM512 611.7V621.5h2V611.7zM515 613.7V621.5h2V613.7zM519 614.7V621.5h2V614.7zM522 615.2V621.5h2V615.2zM526 616.6V621.5h2V616.6zM529 619.8V621.5h2V619.8zM689 611.3V621.5h2V611.3zM692 612.5V621.5h2V612.5zM696 613.3V621.5h2V613.3zM699 613.8V621.5h2V613.8zM713 610.5V621.5h2V610.5zM716 611.3V621.5h2V611.3zM720 611.9V621.5h2V611.9zM723 612.6V621.5h2V612.6zM727 613.5V621.5h2V613.5zM730 615.0V621.5h2V615.0zM734 617.7V621.5h2V617.7zM737 621.0V622.0h2V621.0zM848 620.3V621.5h2V620.3zM852 620.7V621.5h2V620.7zM855 621.0V621.5h2V621.0zM862 621.0V622.0h2V621.0zM876 620.8V621.5h2V620.8zM879 621.0V622.0h2V621.0zM911 620.9V621.5h2V620.9z" fill="#b2dfdb"/>
<path d="M-2 621.5V627.6h2V621.5zM2 621.5V630.2h2V621.5zM5 621.5V633.3h2V621.5zM9 621.5V634.8h2V621.5zM30 621.5V631.8h2V621.5zM33 621.5V633.7h2V621.5zM37 621.5V634.6h2V621.5zM234 621.5V623.2h2V621.5zM238 621.5V626.1h2V621.5zM241 621.5V629.8h2V621.5zM245 621.5V634.5h2V621.5zM248 621.5V638.3h2V621.5zM252 621.5V639.1h2V621.5zM290 621.0V622.0h2V621.0zM293 621.5V623.2h2V621.5zM297 621.5V624.6h2V621.5zM300 621.5V626.1h2V621.5zM304 621.5V627.5h2V621.5zM307 621.5V627.7h2V621.5zM311 621.5V628.0h2V621.5zM314 621.5V628.9h2V621.5zM318 621.5V629.7h2V621.5zM377 621.5V622.4h2V621.5zM380 621.5V624.3h2V621.5zM383 621.5V625.0h2V621.5zM429 621.0V622.0h2V621.0zM456 621.0V622.0h2V621.0zM460 621.0V622.0h2V621.0zM533 621.5V622.7h2V621.5zM536 621.5V624.4h2V621.5zM539 621.5V626.3h2V621.5zM543 621.5V628.2h2V621.5zM546 621.5V630.1h2V621.5zM550 621.5V631.8h2V621.5zM553 621.5V632.4h2V621.5zM598 621.5V623.0h2V621.5zM609 621.5V622.9h2V621.5zM612 621.5V624.0h2V621.5zM616 621.5V626.0h2V621.5zM619 621.5V628.3h2V621.5zM623 621.5V629.3h2V621.5zM626 621.5V629.8h2V621.5zM630 621.5V631.5h2V621.5zM633 621.5V634.4h2V621.5zM637 621.5V636.7h2V621.5zM640 621.5V637.7h2V621.5zM644 621.5V637.8h2V621.5zM741 621.5V624.6h2V621.5zM744 621.5V627.8h2V621.5zM748 621.5V630.2h2V621.5zM751 621.5V631.9h2V621.5zM755 621.5V633.6h2V621.5zM758 621.5V634.9h2V621.5zM786 621.5V627.9h2V621.5zM803 621.5V623.2h2V621.5zM807 621.5V623.8h2V621.5zM810 621.5V624.6h2V621.5zM813 621.5V624.8h2V621.5zM817 621.5V625.0h2V621.5zM820 621.5V625.7h2V621.5zM824 621.5V627.1h2V621.5zM827 621.5V628.0h2V621.5zM865 621.0V622.0h2V621.0zM883 621.5V622.3h2V621.5zM886 621.5V622.7h2V621.5zM897 621.0V622.0h2V621.0zM900 621.0V622.0h2V621.0zM914 621.0V622.0h2V621.0zM924 621.0V622.0h2V621.0zM928 621.5V623.3h2V621.5zM931 621.5V624.7h2V621.5zM935 621.5V624.7h2V621.5zM945 621.5V623.9h2V621.5zM949 621.5V625.5h2V621.5zM952 621.5V626.3h2V621.5z" fill="#ff5252"/>
<path d="M12 621.5V634.6h2V621.5zM16 621.5V633.8h2V621.5zM19 621.5V632.9h2V621.5zM23 621.5V632.0h2V621.5zM26 621.5V631.3h2V621.5zM40 621.5V632.7h2V621.5zM44 621.5V629.7h2V621.5zM47 621.5V626.8h2V621.5zM51 621.5V624.8h2V621.5zM54 621.5V623.5h2V621.5zM57 621.0V622.0h2V621.0zM255 621.5V636.8h2V621.5zM259 621.5V634.0h2V621.5zM262 621.5V632.0h2V621.5zM266 621.5V630.3h2V621.5zM269 621.5V629.1h2V621.5zM272 621.5V628.7h2V621.5zM276 621.5V628.1h2V621.5zM279 621.5V625.9h2V621.5zM283 621.5V622.8h2V621.5zM321 621.5V629.5h2V621.5zM324 621.5V627.9h2V621.5zM328 621.5V625.9h2V621.5zM331 621.5V624.1h2V621.5zM335 621.5V622.7h2V621.5zM338 621.0V622.0h2V621.0zM387 621.5V624.4h2V621.5zM390 621.5V623.4h2V621.5zM394 621.5V622.2h2V621.5zM557 621.5V632.3h2V621.5zM560 621.5V632.2h2V621.5zM564 621.5V631.4h2V621.5zM567 621.5V629.8h2V621.5zM571 621.5V628.2h2V621.5zM574 621.5V627.4h2V621.5zM578 621.5V626.7h2V621.5zM581 621.5V626.2h2V621.5zM585 621.5V626.1h2V621.5zM588 621.5V625.0h2V621.5zM592 621.5V623.2h2V621.5zM595 621.5V622.7h2V621.5zM602 621.5V622.5h2V621.5zM605 621.5V622.3h2V621.5zM647 621.5V637.2h2V621.5zM650 621.5V636.5h2V621.5zM654 621.5V634.8h2V621.5zM657 621.5V631.2h2V621.5zM661 621.5V627.1h2V621.5zM664 621.5V623.6h2V621.5zM761 621.5V634.5h2V621.5zM765 621.5V632.6h2V621.5zM768 621.5V630.5h2V621.5zM772 621.5V629.1h2V621.5zM775 621.5V628.3h2V621.5zM779 621.5V627.7h2V621.5zM782 621.5V627.6h2V621.5zM789 621.5V627.1h2V621.5zM793 621.5V624.9h2V621.5zM796 621.5V623.2h2V621.5zM800 621.5V622.8h2V621.5zM831 621.5V627.2h2V621.5zM834 621.5V625.0h2V621.5zM838 621.5V622.5h2V621.5zM890 621.5V622.0h2V621.5zM938 621.5V623.9h2V621.5zM942 621.5V623.3h2V621.5zM956 621.5V625.1h2V621.5zM959 621.5V623.3h2V621.5z" fill="#ffcdd2"/>
<path d="M0.0 651.2C1.9 653.2 7.5 659.5 11.3 663.4C15.1 667.3 18.9 671.4 22.6 674.7C26.4 678.0 30.4 680.5 33.8 683.2C37.2 685.9 39.8 688.9 43.2 690.7C46.7 692.5 50.9 693.9 54.5 694.1C58.1 694.4 61.5 694.5 64.9 692.2C68.4 689.9 71.6 684.6 75.2 680.4C78.8 676.2 82.7 671.5 86.5 667.2C90.3 662.9 94.3 657.0 97.8 654.4C101.2 651.8 103.5 652.9 107.2 651.8C111.0 650.6 116.2 648.7 120.3 647.5C124.4 646.3 128.2 645.2 131.6 644.6C135.0 644.0 138.2 644.8 141.0 644.1C143.8 643.4 145.4 643.2 148.5 640.5C151.6 637.8 156.4 631.1 159.8 627.7C163.2 624.3 165.8 622.3 169.2 620.2C172.6 618.1 177.4 616.8 180.5 614.9C183.6 613.0 184.9 612.2 188.0 608.9C191.1 605.5 195.9 598.6 199.3 594.8C202.8 591.0 205.2 588.4 208.7 586.0C212.1 583.6 216.2 582.3 220.0 580.7C223.8 579.1 228.1 577.0 231.2 576.4C234.3 575.8 236.6 576.3 238.8 577.0C241.0 577.7 242.2 578.5 244.4 580.7C246.6 582.9 249.1 586.8 251.9 590.1C254.7 593.4 258.3 597.8 261.3 600.5C264.3 603.2 266.7 604.4 270.0 606.1C273.3 607.8 276.6 609.9 281.3 610.8C286.0 611.7 293.2 610.6 298.2 611.7C303.2 612.8 307.0 615.0 311.4 617.4C315.8 619.8 320.6 624.0 324.5 625.8C328.4 627.6 331.4 628.1 334.9 628.1C338.3 628.1 341.3 627.0 345.2 625.8C349.1 624.6 354.0 622.0 358.4 621.1C362.8 620.2 367.4 620.1 371.5 620.2C375.6 620.3 379.4 621.2 382.8 621.7C386.2 622.2 389.1 623.5 392.2 623.4C395.3 623.3 398.2 622.2 401.6 621.1C405.1 620.0 409.1 618.0 412.9 616.8C416.7 615.6 420.4 614.7 424.2 614.0C427.9 613.3 431.6 613.3 435.4 612.7C439.1 612.1 442.9 610.5 446.7 610.2C450.5 609.9 454.2 610.8 458.0 610.8C461.8 610.8 465.9 610.5 469.3 610.2C472.8 609.9 475.9 610.0 478.7 608.9C481.5 607.8 483.4 606.4 486.2 603.3C489.0 600.2 492.2 594.6 495.6 590.1C499.1 585.6 503.1 579.7 506.9 576.0C510.7 572.3 514.5 569.9 518.2 567.9C522.0 565.9 525.8 564.3 529.4 563.8C533.0 563.3 537.0 563.8 540.0 564.7C543.0 565.6 544.4 567.0 547.5 569.4C550.6 571.8 555.0 576.0 558.8 578.8C562.6 581.6 566.3 584.3 570.1 586.4C573.9 588.5 577.6 589.9 581.4 591.1C585.1 592.4 588.9 593.3 592.6 593.9C596.4 594.5 600.1 594.4 603.9 594.8C607.7 595.2 611.8 595.3 615.2 596.1C618.7 596.9 621.5 597.8 624.6 599.5C627.7 601.2 630.9 603.3 634.0 606.1C637.1 608.9 640.3 613.0 643.4 616.4C646.5 619.8 650.0 624.1 652.8 626.8C655.6 629.5 657.8 631.2 660.3 632.4C662.8 633.5 665.3 633.7 667.8 633.7C670.3 633.7 672.9 633.4 675.4 632.4C677.9 631.4 680.1 629.6 682.9 627.7C685.7 625.8 689.2 623.1 692.3 621.1C695.4 619.1 698.6 617.7 701.7 615.5C704.8 613.3 708.0 610.4 711.1 608.0C714.2 605.6 717.4 603.2 720.5 601.0C723.6 598.8 727.1 596.1 729.9 594.8C732.7 593.5 734.9 593.1 737.4 593.3C739.9 593.5 742.4 594.4 744.9 595.8C747.4 597.1 749.9 599.2 752.4 601.4C754.9 603.6 757.5 606.5 760.0 608.9C762.5 611.2 764.7 613.6 767.5 615.5C770.3 617.4 773.8 618.6 776.9 620.2C780.0 621.8 784.1 623.8 786.3 624.9C788.5 626.0 788.1 626.4 790.0 627.0C791.9 627.6 795.2 627.9 797.9 628.4C800.5 628.9 803.2 629.2 805.9 629.7C808.5 630.2 811.1 631.1 813.8 631.7C816.4 632.3 819.1 632.5 821.8 633.4C824.4 634.3 827.3 636.0 829.7 637.0C832.1 638.0 834.1 638.8 836.3 639.2C838.5 639.6 840.5 639.4 842.9 639.2C845.3 639.1 847.4 638.4 850.9 638.3C854.4 638.1 860.6 638.4 864.1 638.3C867.6 638.2 868.9 638.0 872.0 637.9C875.1 637.8 879.5 637.4 882.6 637.4C885.7 637.4 887.2 637.8 890.5 637.9C893.8 638.0 899.0 638.0 902.5 637.9C906.0 637.8 908.4 637.1 911.7 637.0C915.0 636.9 919.6 637.0 922.3 637.0C924.9 637.0 925.4 636.7 927.6 637.0C929.8 637.3 932.4 638.4 935.5 639.0C938.6 639.6 943.0 640.1 946.1 640.7C949.2 641.4 951.5 642.2 954.1 642.9C956.7 643.5 960.4 644.3 961.6 644.6" fill="none" stroke="#ff6d00" stroke-width="1.1" stroke-linejoin="round"/>
<path d="M0.0 655.9 L9.4 675.7 L20.7 684.5 L31.0 690.1 L38.2 701.6 L45.1 700.1 L50.8 696.3 L56.4 696.3 L64.9 687.9 L72.4 667.2 L77.1 658.7 L82.7 653.1 L87.4 651.2 L96.8 640.5 L101.5 644.6 L107.2 652.2 L111.9 646.5 L124.1 641.3 L132.5 642.8 L138.2 644.6 L145.7 639.0 L156.0 616.4 L165.4 609.9 L176.7 609.9 L183.3 606.1 L193.6 585.4 L201.2 575.1 L207.7 572.8 L218.1 575.1 L223.7 572.3 L229.4 572.6 L235.0 577.0 L242.5 585.4 L248.2 601.4 L252.9 610.8 L259.4 611.2 L265.1 613.4 L270.0 613.1 L274.7 615.5 L280.9 616.8 L284.1 611.7 L287.9 610.2 L294.4 612.7 L301.0 616.4 L305.7 621.7 L311.4 623.0 L317.0 629.0 L323.2 633.7 L328.3 631.9 L333.9 630.0 L341.4 626.8 L349.0 620.2 L356.5 616.1 L361.2 619.6 L369.6 618.7 L375.3 619.3 L381.9 624.9 L388.1 626.4 L396.0 623.6 L403.5 616.4 L410.1 611.2 L420.4 610.4 L429.8 614.9 L440.1 607.6 L446.3 605.7 L454.2 610.2 L460.8 611.7 L466.5 609.5 L474.9 608.9 L478.7 605.5 L484.3 592.0 L491.8 573.6 L502.2 563.8 L509.7 560.0 L513.5 561.9 L521.9 560.0 L527.6 558.5 L534.1 566.2 L537.9 566.6 L540.0 569.4 L547.5 577.0 L551.3 583.5 L558.8 589.6 L565.4 593.9 L572.9 593.9 L579.5 595.8 L583.2 595.4 L587.0 598.2 L595.5 594.3 L600.2 596.7 L606.7 594.8 L610.5 597.6 L614.3 597.6 L620.8 605.2 L628.4 609.9 L632.1 614.6 L637.8 625.8 L645.3 635.2 L650.0 639.0 L655.2 644.1 L662.2 639.0 L669.7 632.4 L677.2 626.8 L682.9 618.3 L687.6 612.7 L694.2 611.2 L699.8 608.9 L704.5 606.1 L711.1 595.8 L715.8 593.9 L722.4 590.1 L728.0 587.7 L732.7 587.3 L737.4 591.1 L744.9 601.4 L750.6 609.9 L754.3 613.6 L759.0 622.1 L763.7 625.8 L773.1 625.8 L778.8 627.7 L784.4 629.6 L788.2 633.0 L790.0 634.3 L792.6 632.3 L797.3 629.3 L801.9 630.4 L807.2 631.7 L812.5 635.0 L816.5 635.4 L821.8 637.0 L828.4 643.6 L831.7 644.5 L835.6 643.3 L842.3 638.0 L849.5 637.0 L856.2 638.0 L862.8 637.4 L867.4 639.2 L874.7 636.6 L882.6 637.4 L887.9 639.6 L894.5 637.4 L899.8 638.3 L905.1 637.6 L909.1 635.6 L917.0 637.6 L922.3 636.3 L926.9 636.6 L932.9 642.3 L938.8 642.7 L942.8 641.3 L946.8 642.9 L954.1 648.6 L957.4 647.6 L961.6 645.3" fill="none" stroke="#000" stroke-width="2" stroke-linejoin="round" stroke-linecap="round"/>
<path d="M0.0 842.0 L2.6 855.2 L9.9 865.7 L13.9 853.5 L20.9 862.5 L24.0 854.7 L27.9 861.1 L31.0 862.5 L35.2 876.5 L41.8 850.0 L44.9 853.0 L48.7 844.3 L54.8 855.2 L59.2 845.1 L62.3 843.9 L66.2 832.1 L69.3 807.7 L73.1 801.3 L76.3 812.0 L80.1 812.0 L83.6 818.7 L87.0 821.3 L94.0 802.5 L97.5 815.5 L101.0 830.3 L104.1 834.3 L107.1 840.4 L110.9 804.2 L114.0 815.5 L121.9 815.5 L124.8 814.3 L128.8 823.4 L131.8 822.5 L135.1 831.2 L138.8 822.5 L142.4 811.2 L145.9 805.1 L149.0 788.5 L152.9 787.7 L156.2 783.8 L160.2 792.5 L163.1 794.1 L166.3 789.4 L173.2 800.7 L176.7 800.2 L183.7 782.5 L187.2 768.5 L194.1 753.7 L197.9 759.3 L201.1 756.0 L205.1 765.4 L208.0 764.7 L212.0 775.8 L215.4 771.5 L218.1 773.7 L222.0 759.5 L225.5 766.4 L228.9 765.6 L232.1 780.7 L236.2 785.1 L239.7 784.2 L243.2 798.1 L245.8 836.4 L250.0 826.0 L256.6 801.6 L260.1 801.3 L263.9 807.3 L270.0 799.5 L274.0 810.7 L277.5 806.0 L281.0 805.4 L283.9 784.2 L288.0 792.0 L290.9 804.2 L295.3 806.0 L298.7 808.6 L302.2 813.8 L305.2 827.4 L309.2 812.9 L312.3 812.9 L315.8 829.8 L319.3 825.6 L323.1 827.2 L326.3 812.0 L333.2 806.0 L336.2 812.0 L339.7 801.3 L343.1 802.5 L347.0 793.4 L350.1 794.6 L354.1 791.2 L357.1 790.8 L360.9 821.3 L368.0 800.4 L371.3 805.4 L374.8 806.8 L378.0 817.3 L381.1 824.2 L385.4 815.9 L388.4 815.9 L391.9 804.2 L395.9 799.5 L399.0 792.0 L402.3 782.8 L405.8 781.2 L409.3 783.8 L413.1 789.4 L416.8 797.2 L420.1 791.7 L426.7 806.0 L430.2 813.8 L432.8 788.5 L439.8 776.7 L444.1 779.8 L447.6 786.8 L451.1 804.2 L454.0 810.3 L461.5 797.2 L465.0 783.8 L468.5 790.6 L475.5 788.9 L482.1 749.0 L486.8 741.0 L492.0 735.4 L496.0 749.4 L500.0 743.8 L503.1 741.5 L506.1 753.7 L509.9 745.5 L512.7 770.6 L516.5 761.6 L523.5 759.0 L527.0 751.5 L530.5 777.2 L534.0 784.5 L537.8 771.1 L540.9 789.1 L544.1 785.9 L547.9 788.5 L551.0 806.8 L554.8 792.4 L558.0 797.2 L561.8 793.4 L564.9 798.5 L572.3 785.9 L579.2 793.8 L583.2 786.3 L586.2 800.7 L592.3 782.5 L596.1 781.6 L600.1 801.1 L607.1 782.5 L610.2 802.1 L614.0 791.5 L620.7 814.1 L624.1 803.9 L628.0 807.7 L631.1 813.8 L634.9 830.0 L641.9 824.8 L645.4 829.1 L648.9 826.8 L651.5 831.2 L655.0 834.7 L659.0 811.7 L661.9 810.3 L668.9 801.3 L673.2 801.1 L676.4 802.1 L679.8 788.5 L683.3 781.6 L687.2 781.6 L690.3 798.5 L697.3 788.5 L701.1 793.4 L706.7 772.0 L711.0 762.8 L714.1 787.3 L717.6 777.2 L721.1 779.3 L724.9 775.0 L728.6 778.4 L732.1 779.0 L738.5 805.6 L740.0 807.7 L746.1 815.5 L749.1 825.1 L753.1 811.2 L756.2 826.0 L759.2 827.4 L763.2 822.1 L766.6 812.6 L770.5 809.1 L773.6 811.2 L777.1 819.0 L783.5 820.8 L787.0 837.6 L791.4 819.9 L794.0 803.3 L798.0 803.7 L800.9 817.3 L804.8 820.8 L807.9 820.4 L811.9 833.5 L815.4 817.3 L818.3 825.1 L821.8 825.1 L825.3 838.2 L829.0 844.3 L832.3 827.7 L839.2 812.0 L843.2 809.1 L846.2 820.2 L849.7 819.9 L853.2 825.6 L860.1 824.2 L864.1 824.2 L867.1 836.4 L870.6 821.3 L874.1 811.7 L877.5 822.0 L881.0 827.7 L884.2 826.8 L888.0 837.6 L891.1 818.7 L894.9 819.0 L898.1 828.6 L905.4 823.4 L908.9 811.5 L912.4 826.0 L915.8 830.3 L921.9 818.5 L926.3 826.0 L929.4 839.0 L932.9 849.5 L936.4 830.3 L942.8 823.4 L946.3 833.8 L949.8 844.8 L954.1 850.3 L956.7 828.6 L961.1 815.9 L961.1 761 L0 761Z" fill="url(#gOB)" clip-path="url(#cpOB)"/>
<path d="M0.0 842.0 L2.6 855.2 L9.9 865.7 L13.9 853.5 L20.9 862.5 L24.0 854.7 L27.9 861.1 L31.0 862.5 L35.2 876.5 L41.8 850.0 L44.9 853.0 L48.7 844.3 L54.8 855.2 L59.2 845.1 L62.3 843.9 L66.2 832.1 L69.3 807.7 L73.1 801.3 L76.3 812.0 L80.1 812.0 L83.6 818.7 L87.0 821.3 L94.0 802.5 L97.5 815.5 L101.0 830.3 L104.1 834.3 L107.1 840.4 L110.9 804.2 L114.0 815.5 L121.9 815.5 L124.8 814.3 L128.8 823.4 L131.8 822.5 L135.1 831.2 L138.8 822.5 L142.4 811.2 L145.9 805.1 L149.0 788.5 L152.9 787.7 L156.2 783.8 L160.2 792.5 L163.1 794.1 L166.3 789.4 L173.2 800.7 L176.7 800.2 L183.7 782.5 L187.2 768.5 L194.1 753.7 L197.9 759.3 L201.1 756.0 L205.1 765.4 L208.0 764.7 L212.0 775.8 L215.4 771.5 L218.1 773.7 L222.0 759.5 L225.5 766.4 L228.9 765.6 L232.1 780.7 L236.2 785.1 L239.7 784.2 L243.2 798.1 L245.8 836.4 L250.0 826.0 L256.6 801.6 L260.1 801.3 L263.9 807.3 L270.0 799.5 L274.0 810.7 L277.5 806.0 L281.0 805.4 L283.9 784.2 L288.0 792.0 L290.9 804.2 L295.3 806.0 L298.7 808.6 L302.2 813.8 L305.2 827.4 L309.2 812.9 L312.3 812.9 L315.8 829.8 L319.3 825.6 L323.1 827.2 L326.3 812.0 L333.2 806.0 L336.2 812.0 L339.7 801.3 L343.1 802.5 L347.0 793.4 L350.1 794.6 L354.1 791.2 L357.1 790.8 L360.9 821.3 L368.0 800.4 L371.3 805.4 L374.8 806.8 L378.0 817.3 L381.1 824.2 L385.4 815.9 L388.4 815.9 L391.9 804.2 L395.9 799.5 L399.0 792.0 L402.3 782.8 L405.8 781.2 L409.3 783.8 L413.1 789.4 L416.8 797.2 L420.1 791.7 L426.7 806.0 L430.2 813.8 L432.8 788.5 L439.8 776.7 L444.1 779.8 L447.6 786.8 L451.1 804.2 L454.0 810.3 L461.5 797.2 L465.0 783.8 L468.5 790.6 L475.5 788.9 L482.1 749.0 L486.8 741.0 L492.0 735.4 L496.0 749.4 L500.0 743.8 L503.1 741.5 L506.1 753.7 L509.9 745.5 L512.7 770.6 L516.5 761.6 L523.5 759.0 L527.0 751.5 L530.5 777.2 L534.0 784.5 L537.8 771.1 L540.9 789.1 L544.1 785.9 L547.9 788.5 L551.0 806.8 L554.8 792.4 L558.0 797.2 L561.8 793.4 L564.9 798.5 L572.3 785.9 L579.2 793.8 L583.2 786.3 L586.2 800.7 L592.3 782.5 L596.1 781.6 L600.1 801.1 L607.1 782.5 L610.2 802.1 L614.0 791.5 L620.7 814.1 L624.1 803.9 L628.0 807.7 L631.1 813.8 L634.9 830.0 L641.9 824.8 L645.4 829.1 L648.9 826.8 L651.5 831.2 L655.0 834.7 L659.0 811.7 L661.9 810.3 L668.9 801.3 L673.2 801.1 L676.4 802.1 L679.8 788.5 L683.3 781.6 L687.2 781.6 L690.3 798.5 L697.3 788.5 L701.1 793.4 L706.7 772.0 L711.0 762.8 L714.1 787.3 L717.6 777.2 L721.1 779.3 L724.9 775.0 L728.6 778.4 L732.1 779.0 L738.5 805.6 L740.0 807.7 L746.1 815.5 L749.1 825.1 L753.1 811.2 L756.2 826.0 L759.2 827.4 L763.2 822.1 L766.6 812.6 L770.5 809.1 L773.6 811.2 L777.1 819.0 L783.5 820.8 L787.0 837.6 L791.4 819.9 L794.0 803.3 L798.0 803.7 L800.9 817.3 L804.8 820.8 L807.9 820.4 L811.9 833.5 L815.4 817.3 L818.3 825.1 L821.8 825.1 L825.3 838.2 L829.0 844.3 L832.3 827.7 L839.2 812.0 L843.2 809.1 L846.2 820.2 L849.7 819.9 L853.2 825.6 L860.1 824.2 L864.1 824.2 L867.1 836.4 L870.6 821.3 L874.1 811.7 L877.5 822.0 L881.0 827.7 L884.2 826.8 L888.0 837.6 L891.1 818.7 L894.9 819.0 L898.1 828.6 L905.4 823.4 L908.9 811.5 L912.4 826.0 L915.8 830.3 L921.9 818.5 L926.3 826.0 L929.4 839.0 L932.9 849.5 L936.4 830.3 L942.8 823.4 L946.3 833.8 L949.8 844.8 L954.1 850.3 L956.7 828.6 L961.1 815.9 L961.1 855 L0 855Z" fill="url(#gOS)" clip-path="url(#cpOS)"/>
<path d="M0 737.5H1374 M0 878.5H1374" stroke="#787b86" stroke-width="1" stroke-dasharray="6 5" shape-rendering="crispEdges"/>
<path d="M0 807.5H1374" stroke="#787b86" stroke-opacity="0.55" stroke-width="1" stroke-dasharray="6 5" shape-rendering="crispEdges"/>
<path d="M0.0 842.0 L2.6 855.2 L9.9 865.7 L13.9 853.5 L20.9 862.5 L24.0 854.7 L27.9 861.1 L31.0 862.5 L35.2 876.5 L41.8 850.0 L44.9 853.0 L48.7 844.3 L54.8 855.2 L59.2 845.1 L62.3 843.9 L66.2 832.1 L69.3 807.7 L73.1 801.3 L76.3 812.0 L80.1 812.0 L83.6 818.7 L87.0 821.3 L94.0 802.5 L97.5 815.5 L101.0 830.3 L104.1 834.3 L107.1 840.4 L110.9 804.2 L114.0 815.5 L121.9 815.5 L124.8 814.3 L128.8 823.4 L131.8 822.5 L135.1 831.2 L138.8 822.5 L142.4 811.2 L145.9 805.1 L149.0 788.5 L152.9 787.7 L156.2 783.8 L160.2 792.5 L163.1 794.1 L166.3 789.4 L173.2 800.7 L176.7 800.2 L183.7 782.5 L187.2 768.5 L194.1 753.7 L197.9 759.3 L201.1 756.0 L205.1 765.4 L208.0 764.7 L212.0 775.8 L215.4 771.5 L218.1 773.7 L222.0 759.5 L225.5 766.4 L228.9 765.6 L232.1 780.7 L236.2 785.1 L239.7 784.2 L243.2 798.1 L245.8 836.4 L250.0 826.0 L256.6 801.6 L260.1 801.3 L263.9 807.3 L270.0 799.5 L274.0 810.7 L277.5 806.0 L281.0 805.4 L283.9 784.2 L288.0 792.0 L290.9 804.2 L295.3 806.0 L298.7 808.6 L302.2 813.8 L305.2 827.4 L309.2 812.9 L312.3 812.9 L315.8 829.8 L319.3 825.6 L323.1 827.2 L326.3 812.0 L333.2 806.0 L336.2 812.0 L339.7 801.3 L343.1 802.5 L347.0 793.4 L350.1 794.6 L354.1 791.2 L357.1 790.8 L360.9 821.3 L368.0 800.4 L371.3 805.4 L374.8 806.8 L378.0 817.3 L381.1 824.2 L385.4 815.9 L388.4 815.9 L391.9 804.2 L395.9 799.5 L399.0 792.0 L402.3 782.8 L405.8 781.2 L409.3 783.8 L413.1 789.4 L416.8 797.2 L420.1 791.7 L426.7 806.0 L430.2 813.8 L432.8 788.5 L439.8 776.7 L444.1 779.8 L447.6 786.8 L451.1 804.2 L454.0 810.3 L461.5 797.2 L465.0 783.8 L468.5 790.6 L475.5 788.9 L482.1 749.0 L486.8 741.0 L492.0 735.4 L496.0 749.4 L500.0 743.8 L503.1 741.5 L506.1 753.7 L509.9 745.5 L512.7 770.6 L516.5 761.6 L523.5 759.0 L527.0 751.5 L530.5 777.2 L534.0 784.5 L537.8 771.1 L540.9 789.1 L544.1 785.9 L547.9 788.5 L551.0 806.8 L554.8 792.4 L558.0 797.2 L561.8 793.4 L564.9 798.5 L572.3 785.9 L579.2 793.8 L583.2 786.3 L586.2 800.7 L592.3 782.5 L596.1 781.6 L600.1 801.1 L607.1 782.5 L610.2 802.1 L614.0 791.5 L620.7 814.1 L624.1 803.9 L628.0 807.7 L631.1 813.8 L634.9 830.0 L641.9 824.8 L645.4 829.1 L648.9 826.8 L651.5 831.2 L655.0 834.7 L659.0 811.7 L661.9 810.3 L668.9 801.3 L673.2 801.1 L676.4 802.1 L679.8 788.5 L683.3 781.6 L687.2 781.6 L690.3 798.5 L697.3 788.5 L701.1 793.4 L706.7 772.0 L711.0 762.8 L714.1 787.3 L717.6 777.2 L721.1 779.3 L724.9 775.0 L728.6 778.4 L732.1 779.0 L738.5 805.6 L740.0 807.7 L746.1 815.5 L749.1 825.1 L753.1 811.2 L756.2 826.0 L759.2 827.4 L763.2 822.1 L766.6 812.6 L770.5 809.1 L773.6 811.2 L777.1 819.0 L783.5 820.8 L787.0 837.6 L791.4 819.9 L794.0 803.3 L798.0 803.7 L800.9 817.3 L804.8 820.8 L807.9 820.4 L811.9 833.5 L815.4 817.3 L818.3 825.1 L821.8 825.1 L825.3 838.2 L829.0 844.3 L832.3 827.7 L839.2 812.0 L843.2 809.1 L846.2 820.2 L849.7 819.9 L853.2 825.6 L860.1 824.2 L864.1 824.2 L867.1 836.4 L870.6 821.3 L874.1 811.7 L877.5 822.0 L881.0 827.7 L884.2 826.8 L888.0 837.6 L891.1 818.7 L894.9 819.0 L898.1 828.6 L905.4 823.4 L908.9 811.5 L912.4 826.0 L915.8 830.3 L921.9 818.5 L926.3 826.0 L929.4 839.0 L932.9 849.5 L936.4 830.3 L942.8 823.4 L946.3 833.8 L949.8 844.8 L954.1 850.3 L956.7 828.6 L961.1 815.9" fill="none" stroke="#7e57c2" stroke-width="1.1" stroke-linejoin="round"/>
<path d="M0.0 826.0C1.6 827.5 6.1 832.4 9.6 835.0C13.1 837.6 17.6 839.8 20.9 841.6C24.2 843.4 26.9 844.5 29.6 846.0C32.4 847.5 34.8 849.6 37.4 850.3C40.0 851.0 41.9 850.3 45.3 850.3C48.6 850.3 54.2 850.7 57.5 850.3C60.8 849.9 62.7 849.8 65.3 848.1C67.9 846.4 70.3 842.3 73.1 839.9C75.8 837.5 79.2 835.3 81.8 833.8C84.4 832.3 86.3 832.0 88.8 830.8C91.3 829.6 94.6 827.2 96.6 826.5C98.6 825.8 99.2 826.4 101.0 826.8C102.8 827.2 105.1 829.0 107.1 828.9C109.1 828.8 110.2 827.0 113.2 826.0C116.2 825.0 122.1 823.5 125.3 823.0C128.5 822.5 130.0 822.7 132.3 822.8C134.6 822.9 137.1 823.7 139.3 823.4C141.5 823.1 142.5 822.8 145.4 820.8C148.3 818.8 153.2 813.6 156.7 811.2C160.2 808.8 162.8 807.7 166.3 806.5C169.8 805.3 174.6 805.2 177.6 804.2C180.6 803.2 181.9 802.7 184.5 800.7C187.1 798.7 190.3 794.6 193.2 792.0C196.1 789.4 199.4 786.9 202.0 785.1C204.6 783.3 206.3 782.2 208.9 781.2C211.5 780.2 215.0 780.1 217.6 779.3C220.2 778.5 222.6 777.1 224.6 776.4C226.6 775.7 227.8 775.1 229.8 775.1C231.8 775.1 234.6 775.8 236.8 776.4C239.0 777.0 241.3 777.5 242.9 779.0C244.5 780.5 245.1 783.5 246.3 785.1C247.5 786.8 248.8 787.8 250.0 788.9C251.2 790.0 250.9 790.5 253.5 791.5C256.1 792.5 261.3 793.8 265.7 795.0C270.1 796.2 276.0 798.2 279.6 798.5C283.2 798.8 284.5 796.8 287.4 796.9C290.3 797.0 293.9 797.9 297.0 799.0C300.1 800.1 303.1 802.2 305.7 803.3C308.3 804.4 309.8 804.2 312.7 805.4C315.6 806.6 319.6 809.8 323.1 810.7C326.6 811.6 330.1 811.1 333.6 810.7C337.1 810.4 340.2 809.7 344.0 808.6C347.8 807.5 353.3 804.7 356.2 804.2C359.1 803.7 358.5 805.2 361.4 805.4C364.3 805.6 370.1 805.1 373.6 805.6C377.1 806.1 379.7 807.9 382.3 808.6C384.9 809.3 386.4 810.1 389.3 809.8C392.2 809.5 396.2 808.3 399.7 806.8C403.2 805.3 406.6 802.1 410.2 800.7C413.8 799.3 418.2 798.4 421.5 798.5C424.8 798.6 427.0 801.6 430.2 801.1C433.4 800.6 437.7 796.7 440.6 795.5C443.5 794.3 445.1 793.6 447.6 793.8C450.1 793.9 453.1 795.9 455.4 796.4C457.7 796.9 458.3 797.1 461.5 796.7C464.7 796.3 471.2 795.3 474.6 794.1C478.0 792.9 478.7 792.5 481.6 789.4C484.5 786.3 488.9 778.8 492.0 775.5C495.1 772.2 497.1 771.3 500.0 769.4C502.9 767.5 506.7 765.1 509.6 764.2C512.5 763.3 514.4 764.6 517.4 764.2C520.4 763.9 525.3 762.0 527.9 762.1C530.5 762.2 531.4 764.3 533.1 765.0C534.8 765.7 536.0 765.4 538.3 766.4C540.6 767.4 544.8 769.6 547.0 771.1C549.2 772.6 548.2 773.3 551.4 775.1C554.6 776.9 562.0 780.4 566.2 781.9C570.4 783.4 573.3 783.5 576.6 784.2C579.9 784.9 583.0 786.0 586.2 786.3C589.4 786.6 593.0 785.7 595.8 785.9C598.5 786.1 599.7 786.7 602.7 787.3C605.7 787.9 610.8 788.5 614.0 789.4C617.2 790.3 619.4 791.9 621.9 792.9C624.4 793.9 625.9 793.9 628.8 795.5C631.7 797.1 635.9 800.3 639.3 802.5C642.6 804.7 646.2 806.8 648.9 808.6C651.6 810.4 653.6 812.5 655.5 813.3C657.4 814.1 658.3 813.6 660.2 813.3C662.1 813.0 664.2 812.3 667.1 811.5C670.0 810.7 674.4 810.0 677.6 808.6C680.8 807.2 683.5 804.5 686.3 803.3C689.0 802.1 691.5 802.0 694.1 801.3C696.7 800.6 699.2 800.3 702.0 799.0C704.8 797.7 707.8 794.9 710.7 793.4C713.6 791.9 716.5 791.3 719.4 790.3C722.3 789.3 725.8 787.9 728.1 787.2C730.4 786.5 731.6 786.1 733.3 786.3C735.0 786.5 737.4 788.0 738.5 788.5C739.6 789.0 738.1 788.1 740.0 789.4C741.9 790.7 747.3 794.9 749.6 796.4C751.9 797.9 752.3 797.0 753.9 798.1C755.5 799.2 757.5 801.6 759.2 802.8C761.0 804.0 762.1 804.5 764.4 805.1C766.7 805.7 769.9 805.5 773.1 806.3C776.3 807.1 780.9 808.7 783.5 809.8C786.1 810.9 786.4 812.6 788.7 812.9C791.0 813.2 794.5 811.4 797.5 811.5C800.5 811.6 804.4 813.1 807.0 813.8C809.6 814.5 810.6 814.9 813.1 815.5C815.6 816.1 818.9 816.5 821.8 817.6C824.7 818.7 828.3 821.4 830.5 822.1C832.7 822.8 832.6 822.4 834.9 822.0C837.2 821.6 841.2 820.2 844.5 819.9C847.8 819.6 851.7 820.2 854.9 820.4C858.1 820.6 861.3 820.9 863.6 821.3C865.9 821.7 866.8 822.7 868.8 822.8C870.8 822.9 872.6 821.8 875.8 822.0C879.0 822.2 883.6 823.9 888.0 824.2C892.4 824.5 898.4 824.1 901.9 823.9C905.4 823.7 906.3 823.0 908.9 823.0C911.5 823.0 915.0 823.8 917.6 823.9C920.2 824.0 921.9 823.1 924.5 823.7C927.1 824.3 930.2 827.1 933.2 827.7C936.2 828.3 939.3 826.8 942.8 827.4C946.3 828.0 951.0 831.1 954.1 831.5C957.2 831.9 959.9 830.1 961.1 829.8" fill="none" stroke="#000" stroke-width="1.15" stroke-linejoin="round"/>
<text x="1383.4" y="63.1" font-size="11.5" fill="#131722">540.00</text>
<text x="1383.4" y="109.1" font-size="11.5" fill="#131722">500.00</text>
<text x="1383.4" y="158.1" font-size="11.5" fill="#131722">460.00</text>
<text x="1383.4" y="211.1" font-size="11.5" fill="#131722">420.00</text>
<text x="1383.4" y="302.1" font-size="11.5" fill="#131722">360.00</text>
<text x="1383.4" y="335.1" font-size="11.5" fill="#131722">340.00</text>
<text x="1383.4" y="371.1" font-size="11.5" fill="#131722">320.00</text>
<text x="1383.4" y="409.1" font-size="11.5" fill="#131722">300.00</text>
<text x="1383.4" y="441.1" font-size="11.5" fill="#131722">284.00</text>
<text x="1383.4" y="475.1" font-size="11.5" fill="#131722">268.00</text>
<text x="1383.4" y="507.1" font-size="11.5" fill="#131722">254.00</text>
<text x="1383.4" y="538.1" font-size="11.5" fill="#131722">240.00</text>
<rect x="1375.0" y="256.0" width="49.0" height="17.0" rx="2" fill="#089981"/>
<text x="1382.7" y="268.6" font-size="12.2" fill="#fff" font-weight="bold" textLength="35.2" lengthAdjust="spacingAndGlyphs">381.26</text>
<rect x="1375.0" y="273.0" width="49.0" height="17.0" rx="2" fill="#2962ff"/>
<text x="1382.7" y="285.6" font-size="12.2" fill="#fff" font-weight="bold" textLength="35.2" lengthAdjust="spacingAndGlyphs">380.92</text>
<rect x="1348" y="273" width="26" height="17" rx="2" fill="#2962ff"/>
<text x="1361.2" y="285.8" text-anchor="middle" font-size="12" fill="#fff" font-weight="bold">بعد</text>
<path d="M1374.5 273V290" stroke="#fff" stroke-width="1"/>
<rect x="1375.0" y="503.0" width="52.7" height="17.0" rx="2" fill="#000"/>
<text x="1382.7" y="515.6" font-size="12.2" fill="#fff" font-weight="bold" textLength="40.0" lengthAdjust="spacingAndGlyphs">60.95&#8201;M</text>
<rect x="1375.0" y="520.0" width="52.7" height="17.0" rx="2" fill="#26a69a"/>
<text x="1382.7" y="532.6" font-size="12.2" fill="#fff" font-weight="bold" textLength="40.0" lengthAdjust="spacingAndGlyphs">58.51&#8201;M</text>
<text x="1383.4" y="580.1" font-size="11.5" fill="#131722">20.00</text>
<text x="1383.4" y="671.1" font-size="11.5" fill="#131722">&#8722;20.00</text>
<text x="1383.4" y="715.6" font-size="11.5" fill="#131722">&#8722;40.00</text>
<rect x="1375.0" y="613.9" width="55.7" height="16.6" rx="2" fill="#ffcdd2"/>
<text x="1383.4" y="625.8" font-size="11.5" fill="#131722">&#8722;0.3931</text>
<rect x="1375.0" y="635.9" width="48.7" height="17.0" rx="2" fill="#ff6d00"/>
<text x="1382.7" y="648.5" font-size="12.2" fill="#fff" font-weight="bold" textLength="35.5" lengthAdjust="spacingAndGlyphs">&#8722;10.12</text>
<rect x="1375.0" y="652.9" width="48.7" height="16.6" rx="2" fill="#000"/>
<text x="1382.7" y="665.3" font-size="12.2" fill="#fff" font-weight="bold" textLength="35.5" lengthAdjust="spacingAndGlyphs">&#8722;10.51</text>
<text x="1383.4" y="741.1" font-size="11.5" fill="#131722">80.00</text>
<text x="1383.4" y="788.1" font-size="11.5" fill="#131722">60.00</text>
<text x="1383.4" y="835.1" font-size="11.5" fill="#131722">40.00</text>
<text x="1383.4" y="882.1" font-size="11.5" fill="#131722">20.00</text>
<rect x="1375.0" y="808.2" width="43.2" height="16.8" rx="2" fill="#7e57c2"/>
<text x="1382.7" y="820.7" font-size="12.2" fill="#fff" font-weight="bold" textLength="28.8" lengthAdjust="spacingAndGlyphs">46.41</text>
<rect x="1375.0" y="825.2" width="43.2" height="16.6" rx="2" fill="#000"/>
<text x="1382.7" y="837.6" font-size="12.2" fill="#fff" font-weight="bold" textLength="28.8" lengthAdjust="spacingAndGlyphs">40.43</text>
<rect x="1378.2" y="3.9" width="54" height="26" rx="4.5" fill="#fff" stroke="#ececec" stroke-width="1"/>
<text x="1387.2" y="21.9" font-size="12" fill="#131722" textLength="20.6" lengthAdjust="spacingAndGlyphs">USD</text>
<text x="17.5" y="911" text-anchor="middle" font-size="11.6" fill="#131722" direction="rtl">مارس</text>
<text x="90.5" y="911" text-anchor="middle" font-size="11.6" fill="#131722" direction="rtl">أبريل</text>
<text x="163.5" y="911" text-anchor="middle" font-size="11.6" fill="#131722" direction="rtl">مايو</text>
<text x="236.5" y="911" text-anchor="middle" font-size="11.6" fill="#131722" direction="rtl">يونيو</text>
<text x="305.5" y="911" text-anchor="middle" font-size="11.6" fill="#131722" direction="rtl">يوليو</text>
<text x="381.5" y="911" text-anchor="middle" font-size="11.6" fill="#131722" direction="rtl">أغسطس</text>
<text x="454.5" y="911" text-anchor="middle" font-size="11.6" fill="#131722" direction="rtl">سبتمبر</text>
<text x="527.5" y="911" text-anchor="middle" font-size="11.6" fill="#131722" direction="rtl">أكتوبر</text>
<text x="607.5" y="911" text-anchor="middle" font-size="11.6" fill="#131722" direction="rtl">نوفمبر</text>
<text x="673.5" y="911" text-anchor="middle" font-size="11.6" fill="#131722" direction="rtl">ديسمبر</text>
<text x="749.5" y="911.2" text-anchor="middle" font-size="12" font-weight="bold" fill="#131722">2026</text>
<text x="818.5" y="911" text-anchor="middle" font-size="11.6" fill="#131722" direction="rtl">فبراير</text>
<text x="884.5" y="911" text-anchor="middle" font-size="11.6" fill="#131722" direction="rtl">مارس</text>
<text x="961.5" y="911" text-anchor="middle" font-size="11.6" fill="#131722" direction="rtl">أبريل</text>
<text x="1033.5" y="911" text-anchor="middle" font-size="11.6" fill="#131722" direction="rtl">مايو</text>
<text x="1103.5" y="911" text-anchor="middle" font-size="11.6" fill="#131722" direction="rtl">يونيو</text>
<text x="1176.5" y="911" text-anchor="middle" font-size="11.6" fill="#131722" direction="rtl">يوليو</text>
<text x="1252.5" y="911" text-anchor="middle" font-size="11.6" fill="#131722" direction="rtl">أغسطس</text>
<text x="1325.5" y="911" text-anchor="middle" font-size="11.6" fill="#131722" direction="rtl">سبتمبر</text>
<text x="8" y="23" font-size="14" fill="#131722">Tesla, Inc. · 1</text>
<text x="89" y="23" font-size="9" fill="#131722">&#x202D;يوم&#x202C;</text>
<text x="108.5" y="23" font-size="14" fill="#131722">· NASDAQ</text>
</svg>
</body></html>
